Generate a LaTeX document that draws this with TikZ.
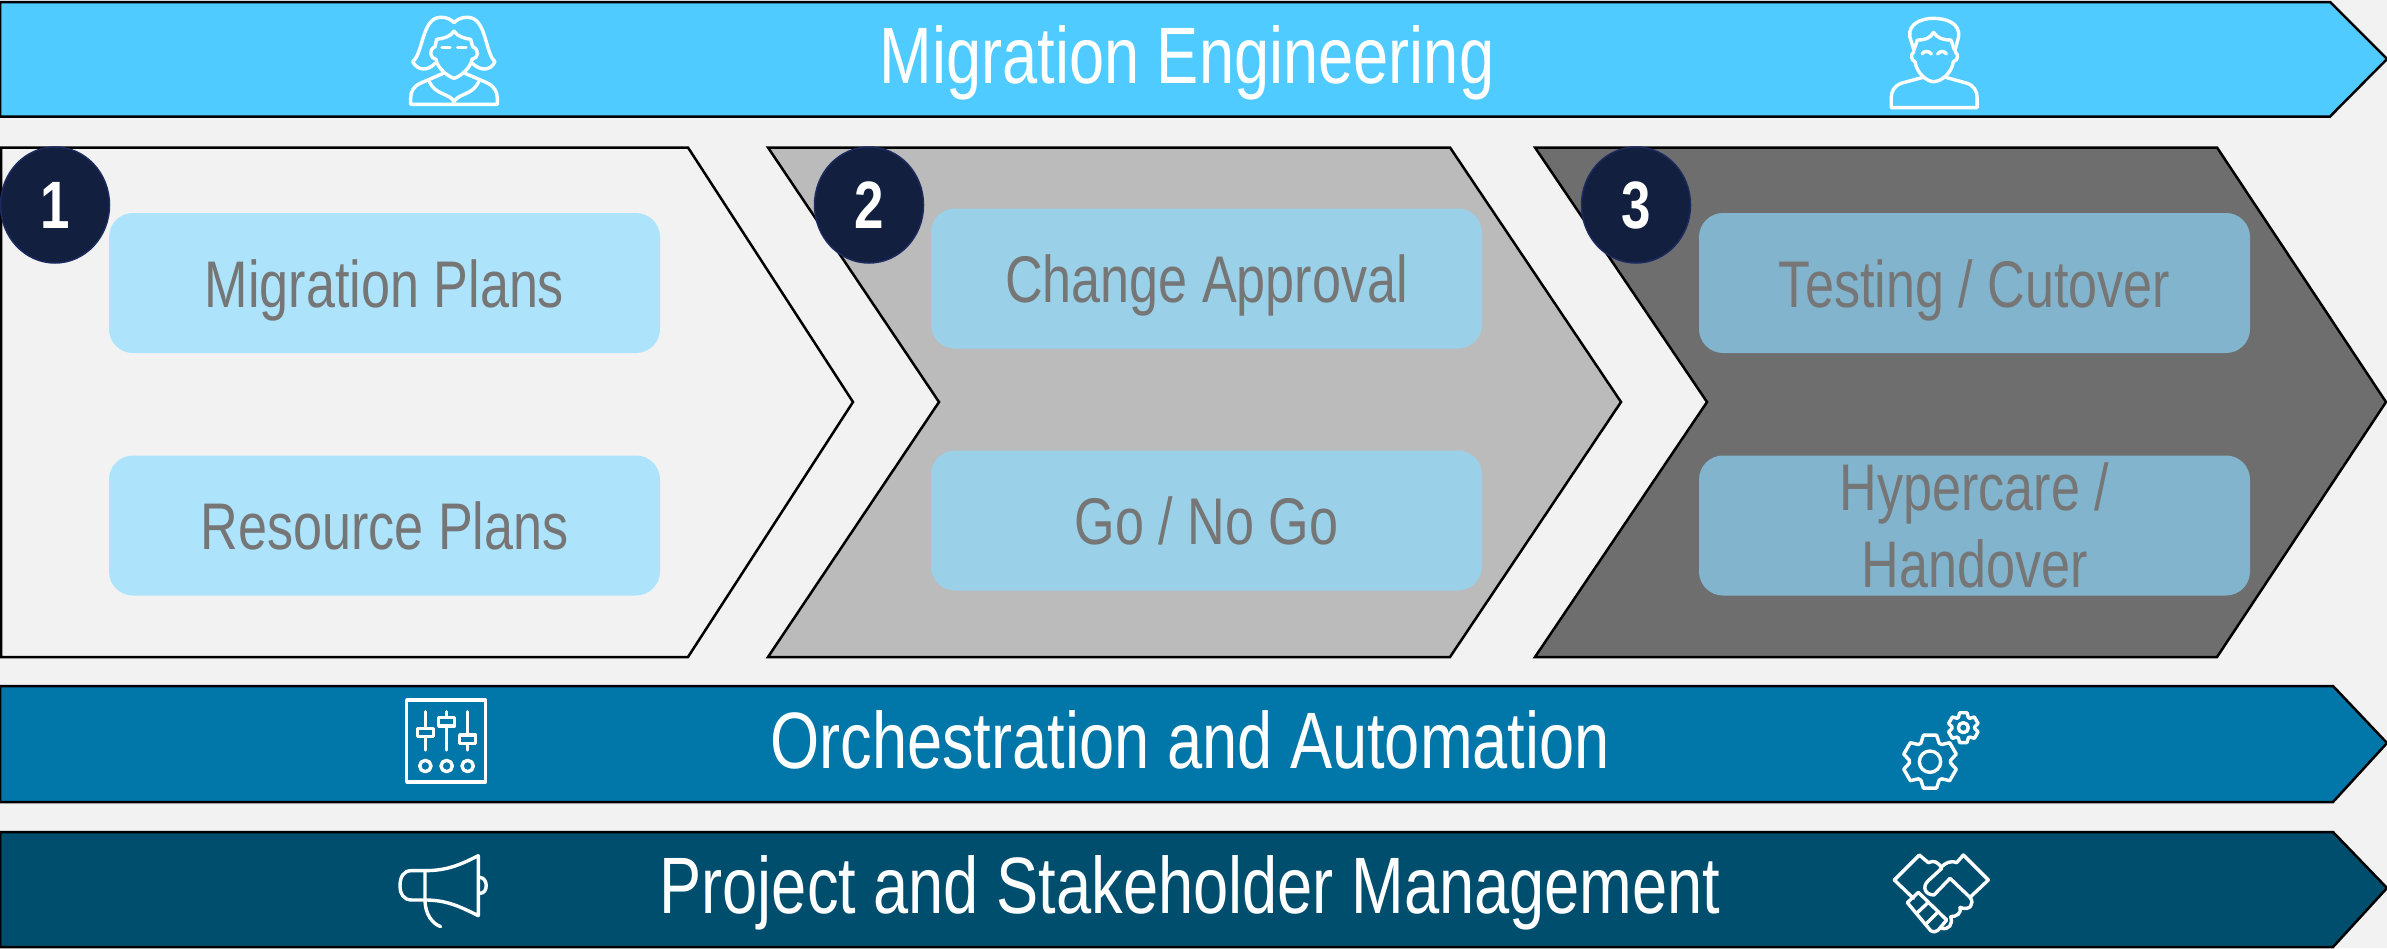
\documentclass[tikz,border=0pt]{standalone}
\usepackage{fontspec}
\setmainfont[FakeStretch=0.79]{Liberation Sans}
\usetikzlibrary{shapes.geometric, positioning}
\definecolor{pagegray}{HTML}{F2F2F2}
\definecolor{skybar}{HTML}{50CBFF}
\definecolor{midbar}{HTML}{0077A8}
\definecolor{darkbar}{HTML}{004E6E}
\definecolor{stepone}{HTML}{F2F2F2}
\definecolor{steptwo}{HTML}{BBBBBB}
\definecolor{stepthree}{HTML}{6E6E6E}
\definecolor{boxone}{HTML}{AEE4FB}
\definecolor{boxtwo}{HTML}{9AD1E8}
\definecolor{boxthree}{HTML}{82B5CD}
\definecolor{boxtext}{HTML}{767676}
\definecolor{badgefill}{HTML}{131F3F}
\definecolor{badgeline}{HTML}{1C2B5F}

\begin{document}
\begin{tikzpicture}[
        x=1pt, y=-1pt,
        outline/.style={draw=black, line width=2.5pt, line join=miter},
        barlabel/.style={text=white, font=\fontsize{80}{90}\selectfont, inner sep=0pt, text height=55pt, text depth=0pt},
        taskbox/.style={rounded corners=24pt, minimum width=551pt, minimum height=140pt, inner sep=0pt,
            text=boxtext, align=center, text height=48pt, text depth=0pt, font=\fontsize{66}{77}\selectfont},
        badge/.style={ellipse, fill=badgefill, draw=badgeline, line width=1.5pt, minimum width=109pt,
            minimum height=116pt, inner sep=0pt, text=white, text height=46pt, text depth=0pt,
            font=\bfseries\fontsize{67}{67}\selectfont},
        icon/.style={draw=white, line width=3.4pt, line cap=round, line join=round},
    ]
    \fill[pagegray] (0,0) rectangle (2387,948);
    \useasboundingbox (0,0) rectangle (2387,948);

    \draw[outline, fill=skybar] (0,2) -- (2330,2) -- (2387,59) -- (2330,116.5) -- (0,116.5) -- cycle;
    \draw[outline, fill=midbar] (0,686) -- (2333,686) -- (2387,743) -- (2333,802) -- (0,802) -- cycle;
    \draw[outline, fill=darkbar] (0,832) -- (2333,832) -- (2387,888) -- (2333,947) -- (0,947) -- cycle;

    \draw[outline, fill=stepone] (1,147.5) -- (688,147.5) -- (853,402) -- (688,657) -- (1,657) -- cycle;
    \draw[outline, fill=steptwo] (768,147.5) -- (1450,147.5) -- (1621,402) -- (1450,657) -- (768,657) -- (939,402) -- cycle;
    \draw[outline, fill=stepthree] (1535,147.5) -- (2217,147.5) -- (2386,402) -- (2217,657) -- (1535,657) -- (1707,402) -- cycle;

    \node[barlabel] (engineering) at (1187,56) {Migration Engineering};
    \node[barlabel] (orchestration) at (1190,741) {Orchestration and Automation};
    \node[barlabel] (stakeholder) at (1190,886) {Project and Stakeholder Management};

    \foreach \Name/\Cx/\Cy/\Shade/\Label in {
            plans/384.5/283/boxone/{Migration Plans},
            resource/384.5/525.5/boxone/{Resource Plans},
            change/1206.5/278.5/boxtwo/{Change Approval},
            gonogo/1206.5/520.5/boxtwo/{Go / No Go},
            testing/1974.5/283/boxthree/{Testing / Cutover}}
        \node[taskbox, fill=\Shade] (\Name) at (\Cx,\Cy) {\Label};
    \node[taskbox, fill=boxthree, text height=123pt] (hypercare) at (1974.5,525.5) {Hypercare /\\Handover};

    \foreach \Name/\Cx/\Label in {one/55/1, two/869/2, three/1636/3}
        \node[badge] (\Name) at (\Cx,205) {\Label};

    \begin{scope}[shift={(340,0)}, x=0.3333pt, y=-0.3333pt]
        \draw[icon] (285,190) .. controls (265,212) and (235,215) .. (218,185)
            .. controls (250,160) and (245,55) .. (300,52)
            .. controls (320,50) and (335,60) .. (342,68)
            .. controls (350,60) and (365,50) .. (385,52)
            .. controls (440,55) and (435,160) .. (465,185)
            .. controls (450,215) and (420,212) .. (397,190);
        \draw[icon] (342,93) .. controls (330,112) and (310,115) .. (290,118)
            -- (285,140) .. controls (265,150) and (270,175) .. (288,178)
            .. controls (292,205) and (325,230) .. (342,235)
            .. controls (360,230) and (392,205) .. (396,178)
            .. controls (415,175) and (420,150) .. (398,140)
            -- (392,118) .. controls (375,115) and (355,112) .. (342,93);
        \draw[icon] (306,143) -- (330,143);
        \draw[icon] (353,143) -- (378,143);
        \draw[icon] (310,220) -- (245,248) .. controls (220,258) and (212,275) .. (212,295)
            -- (212,313) -- (472,313) -- (472,295) .. controls (472,275) and (462,258) .. (440,248) -- (375,220);
        \draw[icon] (268,245) .. controls (285,285) and (330,280) .. (342,305)
            .. controls (355,280) and (400,285) .. (416,245);
        \draw[icon] (342,305) -- (342,313);
    \end{scope}

    \begin{scope}[shift={(1840,0)}, x=0.3488pt, y=-0.3333pt]
        \draw[icon] (212,150) -- (200,110) .. controls (195,70) and (235,55) .. (268,55)
            .. controls (305,55) and (345,70) .. (340,110) -- (330,150);
        \draw[icon] (212,150) -- (222,120) .. controls (245,120) and (258,115) .. (268,97)
            .. controls (280,115) and (295,120) .. (318,120) -- (328,150);
        \draw[icon] (212,155) .. controls (200,165) and (205,182) .. (215,185)
            .. controls (220,220) and (250,245) .. (268,245)
            .. controls (290,245) and (320,220) .. (325,185)
            .. controls (337,182) and (342,165) .. (330,155);
        \draw[icon] (235,162) .. controls (240,152) and (255,152) .. (262,162);
        \draw[icon] (280,162) .. controls (285,152) and (300,152) .. (305,162);
        \draw[icon] (238,232) -- (175,250) .. controls (155,258) and (147,275) .. (147,292)
            -- (147,323) -- (393,323) -- (393,292) .. controls (393,275) and (385,258) .. (365,250) -- (303,232);
    \end{scope}

    \begin{scope}[shift={(370,680)}, x=0.3333pt, y=-0.3333pt]
        \draw[icon] (110,60) rectangle (347,306);
        \foreach \Cx/\Top/\Bottom in {166/145/170, 230/112/138, 293/165/190} {
            \draw[icon] (\Cx,95) -- (\Cx,210);
            \draw[icon, fill=midbar] (\Cx-24,\Top) rectangle (\Cx+24,\Bottom);
            \draw[icon] (\Cx,258) circle [radius=17];
        }
        \draw[icon] (325,527) -- (325,707) .. controls (270,680) and (230,660) .. (165,660)
            -- (125,660) .. controls (100,660) and (90,640) .. (90,620)
            .. controls (90,590) and (100,572) .. (125,572)
            -- (165,572) .. controls (230,572) and (270,555) .. (325,527);
        \draw[icon] (165,572) -- (165,660) .. controls (165,700) and (185,730) .. (212,740);
        \draw[icon] (330,592) .. controls (355,595) and (355,640) .. (330,640);
    \end{scope}

    \begin{scope}[shift={(1860,690)}, x=0.3333pt, y=-0.3333pt]
        \foreach \Cx/\Cy/\Rout/\Rroot/\Rhole in {210/215/82/62/32, 310/113/46/34/15} {
            \begin{scope}[shift={(\Cx,\Cy)}]
                \draw[icon] (64:\Rroot)
                    \foreach \Tooth in {90,150,210,270,330,390} {
                        -- (\Tooth-26:\Rroot) -- (\Tooth-14:\Rout) -- (\Tooth+14:\Rout) -- (\Tooth+26:\Rroot)
                    } -- cycle;
                \draw[icon] (0,0) circle [radius=\Rhole];
            \end{scope}
        }
        \draw[icon] (245,535) .. controls (235,515) and (220,510) .. (205,518) -- (178,495) -- (103,570) -- (160,625);
        \draw[icon] (245,535) -- (205,572) .. controls (185,590) and (195,615) .. (222,615)
            -- (270,565) -- (330,622) -- (385,570) -- (310,495) -- (290,518)
            .. controls (270,510) and (255,520) .. (243,532);
        \draw[icon] (330,622) .. controls (345,640) and (330,665) .. (300,652);
        \draw[icon] (300,652) .. controls (305,670) and (290,680) .. (272,680);
        \draw[icon] (272,680) .. controls (280,705) and (265,720) .. (245,715);
        \draw[icon] (175,607) -- (142,638) -- (212,722) .. controls (220,728) and (230,725) .. (235,720)
            -- (260,690) -- cycle;
        \draw[icon] (205,637) -- (172,668);
        \draw[icon] (235,665) -- (200,700);
    \end{scope}
\end{tikzpicture}
\end{document}
